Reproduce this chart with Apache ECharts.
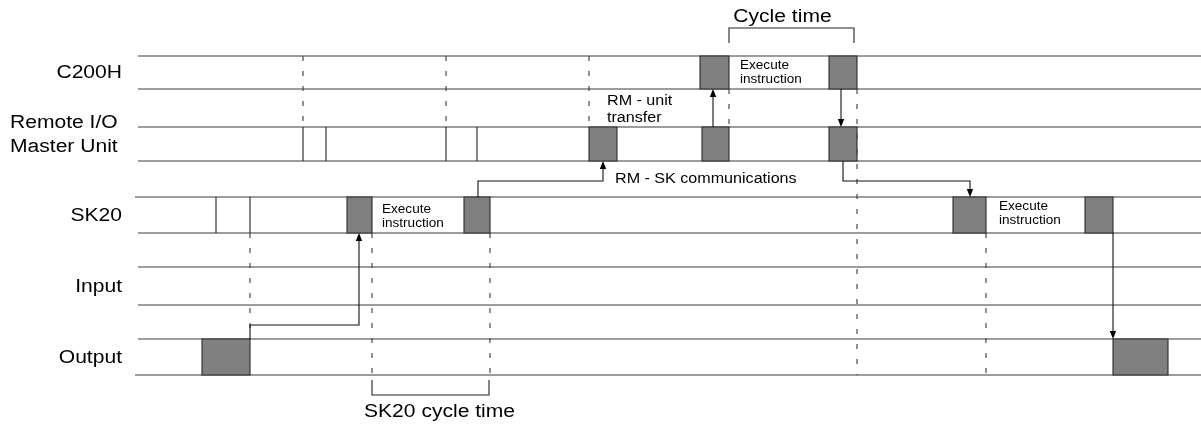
<!DOCTYPE html>
<html>
<head>
<meta charset="utf-8">
<script src="https://cdn.jsdelivr.net/npm/echarts@6/dist/echarts.min.js"></script>
<style>
html,body{margin:0;padding:0;background:#fff;}
#chart{width:1201px;height:425px;}
</style>
</head>
<body>
<div id="chart"></div>
<script>
// ---- data (diagram units: time on x, lane position on y) ----
const rowNames = ['C200H', 'Remote I/O\nMaster Unit', 'SK20', 'Input', 'Output'];
const rowTop = [56, 127, 197, 267, 339];
const rowBottom = [89, 161, 233, 305, 375];
const timeStart = 138;
const timeEnd = 1201;
// busy blocks: [row, start, end]
const blocks = [
  [0, 700, 729], [0, 829, 857],
  [1, 589, 617], [1, 702, 729], [1, 829, 857],
  [2, 347, 372], [2, 464, 490], [2, 953, 986], [2, 1085, 1113],
  [4, 202, 250], [4, 1113, 1168]
];
// plain edges (unfilled intervals): [row, time]
const edges = [[1, 303], [1, 326], [1, 446], [1, 477], [2, 216], [2, 250]];
// dashed markers: [time, from, to]
const dashed = [
  [303, 56, 127], [446, 56, 127], [589, 56, 127], [729, 89, 127],
  [857, 89, 375], [986, 233, 375], [250, 233, 339], [372, 233, 375], [490, 233, 375]
];
// signal flows: lists of [time, y]
const arrows = [
  [[250, 339], [250, 325], [359, 325], [359, 233]],
  [[478, 197], [478, 181], [603, 181], [603, 161]],
  [[713, 127], [713, 89]],
  [[841, 89], [841, 127]],
  [[843, 161], [843, 181], [970, 181], [970, 197]],
  [[1113, 233], [1113, 339]]
];
// brackets: [start, end, edgeY, barY]
const brackets = [[729, 854, 43, 28], [372, 489, 380, 395]];
const bracketLabels = ['Cycle time', 'SK20 cycle time'];
// annotations: [text, time, y, kind]
const notes = [
  ['Execute\ninstruction', 740, 73, 's'],
  ['Execute\ninstruction', 382, 217, 's'],
  ['Execute\ninstruction', 999, 214, 's'],
  ['RM - unit\ntransfer', 607, 110, 'm'],
  ['RM - SK communications', 615, 179, 'm']
];

const FONT = '"Liberation Sans", Arial, sans-serif';
const chart = echarts.init(document.getElementById('chart'), null, {renderer: 'canvas'});

function P(api, x, y) { return api.coord([x, y]); }

function label(text, x, y, align, size, sx, lh) {
  return {
    type: 'text', x: x, y: y, scaleX: sx, scaleY: 1,
    style: {
      text: text, x: 0, y: 0, align: align, verticalAlign: 'middle',
      font: size + 'px ' + FONT, lineHeight: lh || size, fill: '#000'
    }
  };
}

const option = {
  animation: false,
  grid: {left: 0, right: 0, top: 0, bottom: 0},
  xAxis: {type: 'value', min: 0, max: 1201, show: false},
  yAxis: {type: 'value', min: 0, max: 425, inverse: true, show: false},
  series: [
    { // lanes
      type: 'custom', silent: true, z: 1,
      data: rowNames.map((n, i) => [i]),
      renderItem(params, api) {
        const i = params.dataIndex;
        const a = P(api, timeStart, rowTop[i]);
        const b = P(api, timeEnd, rowTop[i]);
        const c = P(api, timeStart, rowBottom[i]);
        const d = P(api, timeEnd, rowBottom[i]);
        const lineStyle = {stroke: '#3a3a3a', lineWidth: 1.1};
        const children = [
          {type: 'line', shape: {x1: a[0] - (i === 2 ? 3 : 0), y1: a[1], x2: b[0], y2: b[1]}, style: lineStyle},
          {type: 'line', shape: {x1: c[0] - (i === 4 ? 3 : 0), y1: c[1], x2: d[0], y2: d[1]}, style: lineStyle}
        ];
        const mid = (a[1] + c[1]) / 2;
        const multi = rowNames[i].indexOf('\n') >= 0;
        children.push(label(rowNames[i], multi ? 10 : a[0] - 16, multi ? mid - 9 : mid + 1,
          multi ? 'left' : 'right', 18, 1.17, 23.5));
        return {type: 'group', children};
      }
    },
    { // dashed markers
      type: 'custom', silent: true, z: 2,
      data: dashed.map(d => [d[0]]),
      renderItem(params, api) {
        const d = dashed[params.dataIndex];
        const a = P(api, d[0], d[1]);
        const b = P(api, d[0], d[2]);
        return {type: 'line', shape: {x1: a[0], y1: a[1], x2: b[0], y2: b[1]},
          style: {stroke: '#3a3a3a', lineWidth: 1.1, lineDash: [5, 10]}};
      }
    },
    { // edges
      type: 'custom', silent: true, z: 3,
      data: edges.map(e => [e[1]]),
      renderItem(params, api) {
        const e = edges[params.dataIndex];
        const a = P(api, e[1], rowTop[e[0]]);
        const b = P(api, e[1], rowBottom[e[0]]);
        return {type: 'line', shape: {x1: a[0], y1: a[1], x2: b[0], y2: b[1]},
          style: {stroke: '#222', lineWidth: 1.1}};
      }
    },
    { // busy blocks
      type: 'custom', silent: true, z: 4,
      data: blocks.map(b => [b[1], b[2]]),
      renderItem(params, api) {
        const b = blocks[params.dataIndex];
        const a = P(api, b[1], rowTop[b[0]]);
        const c = P(api, b[2], rowBottom[b[0]]);
        return {type: 'rect', shape: {x: a[0], y: a[1], width: c[0] - a[0], height: c[1] - a[1]},
          style: {fill: '#808080', stroke: '#2a2a2a', lineWidth: 1.1}};
      }
    },
    { // arrows
      type: 'custom', silent: true, z: 5,
      data: arrows.map((a, i) => [i]),
      renderItem(params, api) {
        const pts = arrows[params.dataIndex].map(p => P(api, p[0], p[1]));
        const n = pts.length;
        const end = pts[n - 1], prev = pts[n - 2];
        const dx = end[0] - prev[0], dy = end[1] - prev[1];
        const len = Math.sqrt(dx * dx + dy * dy) || 1;
        const ux = dx / len, uy = dy / len;
        const L = 8, W = 3.2;
        const bx = end[0] - ux * L, by = end[1] - uy * L;
        const tri = [end, [bx - uy * W, by + ux * W], [bx + uy * W, by - ux * W]];
        const line = pts.slice(0, n - 1).concat([[bx, by]]);
        return {type: 'group', children: [
          {type: 'polyline', shape: {points: line}, style: {stroke: '#111', lineWidth: 1.1, fill: null}},
          {type: 'polygon', shape: {points: tri}, style: {fill: '#000'}}
        ]};
      }
    },
    { // brackets
      type: 'custom', silent: true, z: 5,
      data: brackets.map(b => [b[0], b[1]]),
      renderItem(params, api) {
        const b = brackets[params.dataIndex];
        const pts = [P(api, b[0], b[2]), P(api, b[0], b[3]), P(api, b[1], b[3]), P(api, b[1], b[2])];
        const above = b[3] < b[2];
        const cx = (pts[0][0] + pts[3][0]) / 2;
        return {type: 'group', children: [
          {type: 'polyline', shape: {points: pts}, style: {stroke: '#222', lineWidth: 1.1, fill: null}},
          label(bracketLabels[params.dataIndex],
            above ? cx - 9 : cx + 9,
            above ? pts[1][1] - 11 : pts[1][1] + 17,
            'center', 18, 1.17)
        ]};
      }
    },
    { // notes
      type: 'custom', silent: true, z: 6,
      data: notes.map(n => [n[1], n[2]]),
      renderItem(params, api) {
        const n = notes[params.dataIndex];
        const p = P(api, n[1], n[2]);
        const small = n[3] === 's';
        return label(n[0], p[0], p[1], 'left', small ? 12 : 14, small ? 1.13 : 1.15, small ? 14 : 17);
      }
    }
  ]
};
chart.setOption(option);
</script>
</body>
</html>
